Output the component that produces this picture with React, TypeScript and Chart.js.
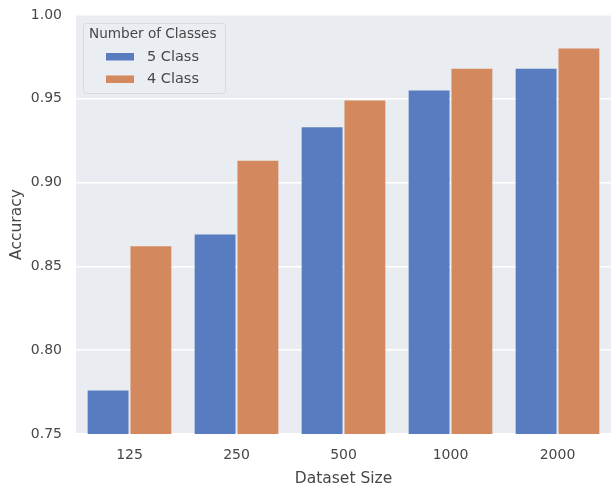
import React, { useEffect, useRef } from "react";
import { Chart, registerables } from "chart.js";

Chart.register(...registerables);

const categories = ["125", "250", "500", "1000", "2000"];
const seriesNames = ["5 Class", "4 Class"];
const fiveClass = [0.776, 0.869, 0.933, 0.955, 0.968];
const fourClass = [0.862, 0.913, 0.949, 0.968, 0.98];
const colors = ["#587cc0", "#d4885e"];
const legendTitle = "Number of Classes";
const yTitle = "Accuracy";
const xTitle = "Dataset Size";

const FONT = "'DejaVu Sans', sans-serif";
const TEXT = "#474747";

const bgPlugin = {
  id: "bgPlugin",
  beforeDraw(chart: any) {
    const { ctx, chartArea } = chart;
    ctx.save();
    ctx.fillStyle = "#e9ecf1";
    ctx.fillRect(chartArea.left, chartArea.top, chartArea.right - chartArea.left, chartArea.bottom - chartArea.top);
    ctx.restore();
  },
};

const legendPlugin = {
  id: "boxLegend",
  afterDatasetsDraw(chart: any) {
    const { ctx } = chart;
    const x = 83, y = 23, w = 142, h = 70;
    ctx.save();
    ctx.fillStyle = "rgba(234,237,242,0.85)";
    ctx.strokeStyle = "#d6d9de";
    ctx.lineWidth = 1;
    ctx.beginPath();
    (ctx as any).roundRect(x + 0.5, y + 0.5, w, h, 3);
    ctx.fill();
    ctx.stroke();
    ctx.fillStyle = TEXT;
    ctx.textBaseline = "middle";
    ctx.textAlign = "left";
    ctx.font = `13.6px ${FONT}`;
    ctx.fillText(legendTitle, 89, 34);
    chart.data.datasets.forEach((ds: any, i: number) => {
      const cy = 57 + i * 22.5;
      ctx.fillStyle = ds.backgroundColor;
      ctx.fillRect(106, cy - 4, 28, 7.5);
      ctx.fillStyle = TEXT;
      ctx.font = `14.5px ${FONT}`;
      ctx.fillText(ds.label, 147, cy);
    });
    ctx.restore();
  },
};

export default function App() {
  const ref = useRef<HTMLCanvasElement | null>(null);
  useEffect(() => {
    if (!ref.current) return;
    const chart = new Chart(ref.current, {
      type: "bar",
      data: {
        labels: categories,
        datasets: [
          { label: seriesNames[0], data: fiveClass, backgroundColor: colors[0] },
          { label: seriesNames[1], data: fourClass, backgroundColor: colors[1] },
        ],
      },
      options: {
        animation: false,
        responsive: false,
        maintainAspectRatio: false,
        layout: { padding: { top: 15, right: 0, left: 0, bottom: 0 } },
        datasets: { bar: { categoryPercentage: 0.8, barPercentage: 0.955 } },
        plugins: { legend: { display: false }, tooltip: { enabled: false } },
        scales: {
          x: {
            grid: { display: false, drawTicks: false },
            border: { display: false },
            ticks: { color: TEXT, font: { family: FONT, size: 14 }, padding: 13 },
            title: { display: true, text: xTitle, color: TEXT, font: { family: FONT, size: 15.5 }, padding: { top: 0, bottom: 3 } },
            afterFit: (s: any) => { s.height = 57; s.paddingLeft = 0; s.paddingRight = 0; },
          },
          y: {
            min: 0.75,
            max: 1.0,
            grid: { color: "#ffffff", lineWidth: 1.5, drawTicks: false },
            border: { display: false },
            ticks: {
              stepSize: 0.05,
              color: TEXT,
              font: { family: FONT, size: 14 },
              padding: 14,
              callback: (v: any) => Number(v).toFixed(2),
            },
            title: { display: true, text: yTitle, color: TEXT, font: { family: FONT, size: 15.5 }, padding: { top: 8, bottom: 0 } },
            afterFit: (s: any) => { s.width = 76; s.paddingTop = 0; s.paddingBottom = 0; },
          },
        },
      },
      plugins: [bgPlugin, legendPlugin],
    });
    return () => chart.destroy();
  }, []);
  return (
    <div style={{ position: "absolute", left: 0, top: 0, width: 611, height: 491, background: "#fff" }}>
      <canvas ref={ref} width={611} height={491} style={{ width: 611, height: 491, display: "block" }} />
    </div>
  );
}
